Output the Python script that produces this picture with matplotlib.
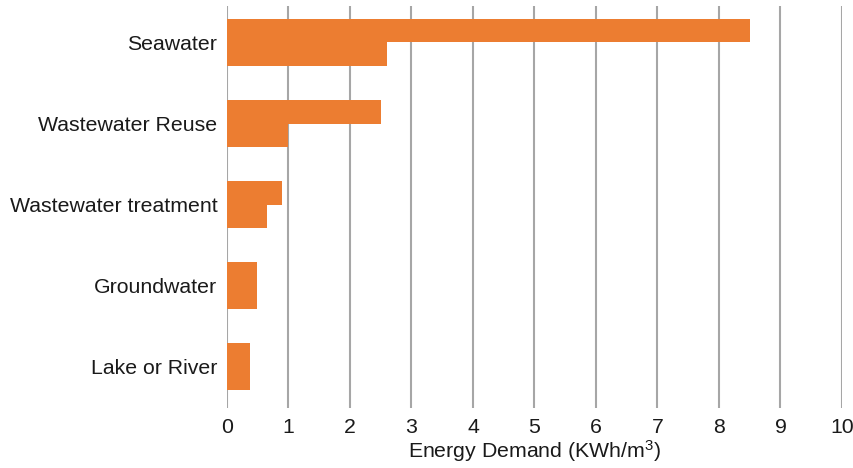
import matplotlib
matplotlib.use("Agg")
import matplotlib.pyplot as plt
import numpy as np

plt.rcParams['font.family'] = ['Liberation Sans', 'DejaVu Sans']
plt.rcParams['mathtext.fontset'] = 'custom'
plt.rcParams['mathtext.rm'] = 'Liberation Sans'
plt.rcParams['mathtext.it'] = 'Liberation Sans'

categories = ["Seawater", "Wastewater Reuse", "Wastewater treatment", "Groundwater", "Lake or River"]
high_demand = [8.5, 2.5, 0.9, 0.48, 0.38]
low_demand = [2.6, 1.0, 0.65, 0.48, 0.38]
x_ticks = list(range(0, 11))

W, H = 854, 468
fig = plt.figure(figsize=(W / 100, H / 100), dpi=100)
ax = fig.add_axes([227 / W, 1 - 408 / H, (842 - 227) / W, (408 - 6) / H])

orange = "#EC7D31"
grid_c = "#A6A6A6"
text_c = "#1a1a1a"
fs = 15.3
bar_h = 0.29
y = np.arange(len(categories))

ax.barh(y - bar_h / 2, high_demand, height=bar_h, color=orange, zorder=3)
ax.barh(y + bar_h / 2, low_demand, height=bar_h, color=orange, zorder=3)

for t in x_ticks:
    ax.axvline(t, color=grid_c, lw=1.5, zorder=1)

ax.set_xlim(0, 10)
ax.set_ylim(4.51, -0.45)
ax.set_yticks(y)
ax.set_yticklabels(categories, fontsize=fs, color=text_c)
ax.set_xticks(x_ticks)
ax.set_xticklabels([str(t) for t in x_ticks], fontsize=fs, color=text_c)
ax.tick_params(axis="both", length=0)
ax.tick_params(axis="y", pad=7)
ax.tick_params(axis="x", pad=7)
for s in ax.spines.values():
    s.set_visible(False)
ax.set_xlabel("Energy Demand (KWh/m$^{3}$)", fontsize=fs, color=text_c, labelpad=1)

fig.savefig("out.png", dpi=100, facecolor="white")
